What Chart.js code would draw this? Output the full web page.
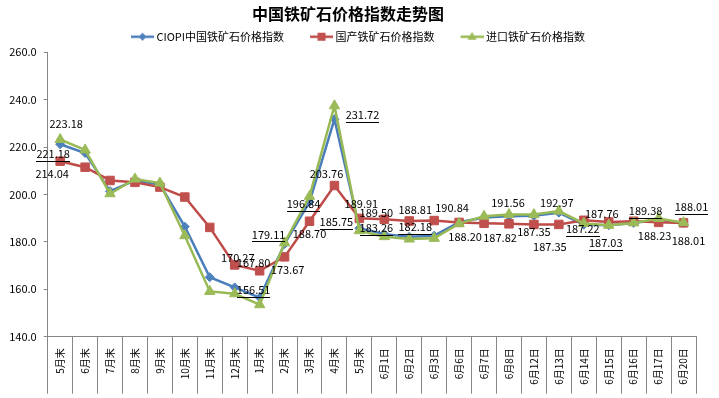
<!DOCTYPE html>
<html>
<head>
<meta charset="utf-8">
<script src="https://cdn.jsdelivr.net/npm/chart.js@4/dist/chart.umd.min.js"></script>
<style>
  body { margin: 0; background: #fff; }
  #wrap { width: 719px; height: 398px; }
</style>
</head>
<body>
<div id="wrap"><canvas id="chart" width="719" height="398"></canvas></div>
<script>
// ----- Dados -----
const categories = ["5月末", "6月末", "7月末", "8月末", "9月末", "10月末", "11月末", "12月末", "1月末", "2月末", "3月末", "4月末", "5月末",
  "6月1日", "6月2日", "6月3日", "6月6日", "6月7日", "6月8日", "6月12日", "6月13日", "6月14日", "6月15日", "6月16日", "6月17日", "6月20日"];

const ciopi = [221.18, 217.5, 201.4, 205.9, 204.2, 186.4, 165.1, 160.8, 156.51, 179.11, 196.84, 231.72, 185.75,
  183.26, 182.18, 182.6, 188.3, 190.3, 190.8, 191.0, 192.3, 187.22, 187.03, 188.0, 189.38, 188.01];
const domestic = [214.04, 211.5, 205.9, 205.1, 203.1, 198.9, 186.1, 170.27, 167.80, 173.67, 188.70, 203.76, 189.91,
  189.50, 188.81, 189.0, 188.20, 187.82, 187.6, 187.35, 187.35, 189.1, 188.4, 188.7, 188.23, 188.01];
const imported = [223.18, 218.8, 200.3, 206.5, 204.8, 182.6, 159.1, 158.1, 153.5, 179.6, 199.2, 237.4, 184.7,
  182.2, 181.2, 181.5, 187.7, 190.84, 191.56, 191.5, 192.97, 187.76, 187.0, 188.0, 189.9, 188.1];

const seriesNames = ["CIOPI中国铁矿石价格指数", "国产铁矿石价格指数", "进口铁矿石价格指数"];
const yMin = 140, yMax = 260, yStep = 20;

// which points carry a value label
const ciopiLabelAt = [0, 8, 9, 10, 11, 12, 13, 14, 21, 22, 24, 25];
const domesticLabelAt = [0, 7, 8, 9, 10, 11, 12, 13, 14, 16, 17, 19, 20, 24, 25];
const importedLabelAt = [0, 17, 18, 20, 21];

// ----- Layout dos rótulos (deslocamento em px) -----
const labelShift = [
  [[-7, 10], [-6, -7.5], [-16, -9.5], [-6, 2], [28, -4], [-23, -6], [-8, -6], [6, -10], [-1, 4], [-3, 18], [-13, -9], [8, -16]],
  [[-8, 13], [3, -7], [-6, -8], [3, 13], [0, 13], [-8, -12], [2, -15], [-8, -7], [6, -11], [6, 14], [16, 14], [0, 7.5], [-9, 22.5], [-4, 13], [5, 18]],
  [[6, -16], [-32, -8], [-1, -11.5], [-2, -8], [18, -10]]
];
const labelIdx = [ciopiLabelAt, domesticLabelAt, importedLabelAt];
const underline = [true, false, false];

const colors = ["#4A7EBB", "#BE4B48", "#98B954"];
const fills = ["#4F81BD", "#C0504D", "#9BBB59"];
const styles = ["rectRot", "rect", "triangle"];
const radii = [4.5, 6, 6];

const CJK = '"Noto Sans CJK SC", "Noto Sans", sans-serif';

// ----- Ícones da legenda (linha + marcador) -----
function legendIcon(i) {
  const c = document.createElement("canvas");
  c.width = 46; c.height = 12;
  const g = c.getContext("2d");
  g.strokeStyle = colors[i];
  g.lineWidth = 2.5;
  g.beginPath(); g.moveTo(23, 6); g.lineTo(46, 6); g.stroke();
  g.fillStyle = fills[i];
  const cx = 34.5, cy = 6;
  g.beginPath();
  if (i === 0) { g.moveTo(cx, cy - 4); g.lineTo(cx + 4, cy); g.lineTo(cx, cy + 4); g.lineTo(cx - 4, cy); }
  else if (i === 1) { g.rect(cx - 4, cy - 4, 8, 8); }
  else { g.moveTo(cx, cy - 5); g.lineTo(cx + 4.5, cy + 3); g.lineTo(cx - 4.5, cy + 3); }
  g.closePath(); g.fill();
  return c;
}
const icons = [0, 1, 2].map(legendIcon);

// ----- Plugin de rótulos -----
const valueLabels = {
  id: "valueLabels",
  afterDatasetsDraw(chart) {
    const ctx = chart.ctx;
    ctx.save();
    ctx.font = "11px " + CJK;
    ctx.fillStyle = "#000";
    ctx.strokeStyle = "#000";
    ctx.lineWidth = 1;
    ctx.textAlign = "center";
    ctx.textBaseline = "middle";
    labelIdx.forEach((list, s) => {
      const meta = chart.getDatasetMeta(s);
      const values = chart.data.datasets[s].data;
      list.forEach((idx, k) => {
        const pt = meta.data[idx];
        const x = pt.x + labelShift[s][k][0];
        const y = pt.y + labelShift[s][k][1];
        const txt = values[idx].toFixed(2);
        ctx.fillText(txt, x, y);
        if (underline[s]) {
          const w = ctx.measureText(txt).width;
          ctx.beginPath();
          ctx.moveTo(Math.round(x - w / 2), Math.round(y + 7) + 0.5);
          ctx.lineTo(Math.round(x + w / 2), Math.round(y + 7) + 0.5);
          ctx.stroke();
        }
      });
    });
    ctx.restore();
  }
};

// ----- Gráfico -----
const seriesData = [ciopi, domestic, imported];
const drawOrder = [2, 1, 0];

new Chart(document.getElementById("chart"), {
  type: "line",
  data: {
    labels: categories,
    datasets: seriesData.map((d, i) => ({
      label: seriesNames[i],
      data: d,
      order: drawOrder[i],
      borderColor: colors[i],
      borderWidth: 2.5,
      backgroundColor: fills[i],
      pointStyle: styles[i],
      pointRadius: radii[i],
      pointBackgroundColor: fills[i],
      pointBorderColor: fills[i],
      pointBorderWidth: 1,
      tension: 0
    }))
  },
  options: {
    responsive: false,
    animation: false,
    layout: { padding: { left: 0, right: 23, top: 0, bottom: 0 } },
    plugins: {
      title: {
        display: true,
        text: "中国铁矿石价格指数走势图",
        color: "#000",
        font: { family: CJK, size: 16, weight: "bold" },
        padding: { top: 4, bottom: 2 }
      },
      legend: {
        display: true,
        position: "top",
        labels: {
          usePointStyle: true,
          pointStyleWidth: 40,
          padding: 6,
          color: "#222",
          font: { family: CJK, size: 11 },
          generateLabels: chart => chart.data.datasets.map((ds, i) => ({
            text: ds.label,
            pointStyle: icons[i],
            fillStyle: fills[i],
            strokeStyle: colors[i],
            lineWidth: 0,
            hidden: false,
            datasetIndex: i
          }))
        }
      },
      tooltip: { enabled: false }
    },
    scales: {
      x: {
        offset: true,
        grid: { display: true, offset: true, drawOnChartArea: false, drawTicks: true, tickLength: 57, color: "#868686" },
        border: { display: true, color: "#868686" },
        ticks: {
          autoSkip: false,
          minRotation: 90,
          maxRotation: 90,
          padding: -45.5,
          color: "#000",
          font: { family: CJK, size: 10 }
        },
        afterFit: scale => { scale.height = 61.3; }
      },
      y: {
        min: yMin,
        max: yMax,
        grid: { display: true, drawOnChartArea: false, drawTicks: true, tickLength: 4, color: "#868686" },
        border: { display: true, color: "#868686" },
        ticks: {
          stepSize: yStep,
          padding: 7,
          color: "#000",
          font: { family: CJK, size: 11 },
          callback: v => v.toFixed(1)
        },
        afterFit: scale => { scale.width = 47.7; }
      }
    }
  },
  plugins: [valueLabels]
});
</script>
</body>
</html>
